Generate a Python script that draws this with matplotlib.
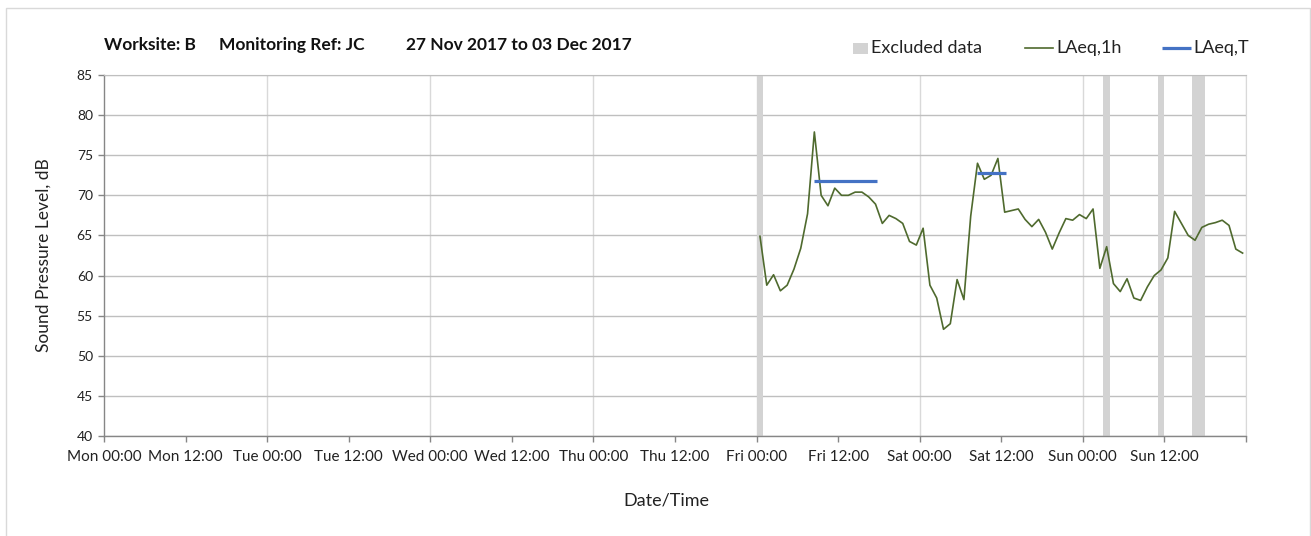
import matplotlib
matplotlib.use("Agg")
import matplotlib.pyplot as plt
import matplotlib.dates as mdates
from matplotlib.patches import Rectangle
from matplotlib.lines import Line2D
import pandas as pd

plt.rcParams['font.family'] = ['Lato', 'DejaVu Sans']

# ---------------- data ----------------
series_start = "2017-12-01 00:30"
laeq_1h = [64.9, 58.8, 60.1, 58.1, 58.8, 60.8, 63.4, 67.7, 77.9, 70.0, 68.7, 70.9,
           70.0, 70.0, 70.4, 70.4, 69.8, 68.9, 66.5, 67.5, 67.1, 66.5, 64.25, 63.8,
           65.9, 58.8, 57.2, 53.3, 54.0, 59.5, 57.0, 67.4, 74.0, 72.0, 72.5, 74.6,
           67.9, 68.1, 68.3, 67.0, 66.1, 67.0, 65.4, 63.3, 65.3, 67.1, 66.9, 67.6,
           67.1, 68.3, 60.9, 63.6, 59.0, 58.0, 59.6, 57.2, 56.9, 58.6, 60.0, 60.7,
           62.2, 68.0, 66.5, 65.0, 64.4, 66.0, 66.4, 66.6, 66.9, 66.25, 63.3, 62.8]

excluded_start = ["2017-12-01 00:00", "2017-12-03 03:00", "2017-12-03 11:00", "2017-12-03 16:00"]
excluded_end = ["2017-12-01 01:00", "2017-12-03 04:00", "2017-12-03 12:00", "2017-12-03 18:00"]

laeq_t_start = ["2017-12-01 08:27", "2017-12-02 08:27"]
laeq_t_end = ["2017-12-01 17:42", "2017-12-02 12:42"]
laeq_t_value = [71.8, 72.8]

x_start = "2017-11-27 00:00"
x_end = "2017-12-04 00:00"
y_ticks = [40, 45, 50, 55, 60, 65, 70, 75, 80, 85]

title_parts = ["Worksite: B", "Monitoring Ref: JC", "27 Nov 2017 to 03 Dec 2017"]
legend_labels = ["Excluded data", "LAeq,1h", "LAeq,T"]

# ---------------- style ----------------
W, H = 1311, 536
GREEN = "#4F6A2E"
BLUE = "#4472C4"
EXCL = "#D3D3D3"
HGRID = "#BFBFBF"
VGRID = "#D9D9D9"
AXIS = "#868686"
TXT = "#222222"

fig = plt.figure(figsize=(W / 100, H / 100), dpi=100)
ax = fig.add_axes([104 / W, 1 - 436 / H, (1246 - 104) / W, (436 - 75) / H])

times = pd.date_range(series_start, periods=len(laeq_1h), freq="h")

for s, e in zip(excluded_start, excluded_end):
    ax.axvspan(pd.Timestamp(s), pd.Timestamp(e), color=EXCL, lw=0, zorder=1)

ax.plot(times, laeq_1h, color=GREEN, lw=1.2, zorder=3)
for s, e, v in zip(laeq_t_start, laeq_t_end, laeq_t_value):
    ax.plot([pd.Timestamp(s), pd.Timestamp(e)], [v, v], color=BLUE, lw=2.3,
            solid_capstyle="butt", zorder=4)

ax.set_xlim(pd.Timestamp(x_start), pd.Timestamp(x_end))
ax.set_ylim(y_ticks[0], y_ticks[-1])
ax.set_yticks(y_ticks)

ax.xaxis.set_major_locator(mdates.HourLocator(byhour=[0, 12]))
ax.xaxis.set_major_formatter(mdates.DateFormatter("%a %H:%M"))

# vertical gridlines at day boundaries only
for d in pd.date_range(x_start, x_end, freq="D")[1:]:
    ax.axvline(d, color=VGRID, lw=1.0, zorder=0)
ax.yaxis.grid(True, color=HGRID, lw=1.0, zorder=0)
ax.set_axisbelow(True)

for sp in ["left", "bottom"]:
    ax.spines[sp].set_color(AXIS)
    ax.spines[sp].set_linewidth(1.0)
ax.spines["top"].set_color(HGRID)
ax.spines["right"].set_color(VGRID)

ax.tick_params(axis="both", direction="out", length=4, width=1.0, color=AXIS,
               labelcolor=TXT)
ax.tick_params(axis="y", pad=4, labelsize=10)
ax.tick_params(axis="x", pad=6, labelsize=11)
ax.figure.canvas.draw()
tl = ax.get_xticklabels()
if tl:
    tl[-1].set_visible(False)

ax.set_ylabel("Sound Pressure Level, dB", fontsize=12.5, labelpad=18, color=TXT)
fig.text(666 / W, 1 - 501 / H, "Date/Time", fontsize=13, ha="center", va="center",
         color=TXT)

# title pieces
for txt, xp in zip(title_parts, [104, 219, 406]):
    fig.text(xp / W, 1 - 45 / H, txt, fontsize=12.5, fontweight="bold",
             ha="left", va="center", color="#111111")

# manual legend
ly = 1 - 48 / H
fig.add_artist(Rectangle((853 / W, 1 - 54 / H), 15 / W, 11 / H, transform=fig.transFigure,
                         facecolor=EXCL, edgecolor="none"))
fig.text(871 / W, ly, legend_labels[0], fontsize=13, ha="left", va="center", color=TXT)
fig.add_artist(Line2D([1025 / W, 1053 / W], [ly, ly], transform=fig.transFigure,
                      color=GREEN, lw=1.2))
fig.text(1056 / W, ly, legend_labels[1], fontsize=13, ha="left", va="center", color=TXT)
fig.add_artist(Line2D([1162 / W, 1191 / W], [ly, ly], transform=fig.transFigure,
                      color=BLUE, lw=2.3, solid_capstyle="butt"))
fig.text(1193 / W, ly, legend_labels[2], fontsize=13, ha="left", va="center", color=TXT)

# outer border
fig.add_artist(Rectangle((6 / W, -0.02), (1310 - 6) / W, 1 - 8 / H + 0.02,
                         transform=fig.transFigure, facecolor="none",
                         edgecolor="#D9D9D9", lw=1.0))

fig.savefig("out.png", dpi=100)
